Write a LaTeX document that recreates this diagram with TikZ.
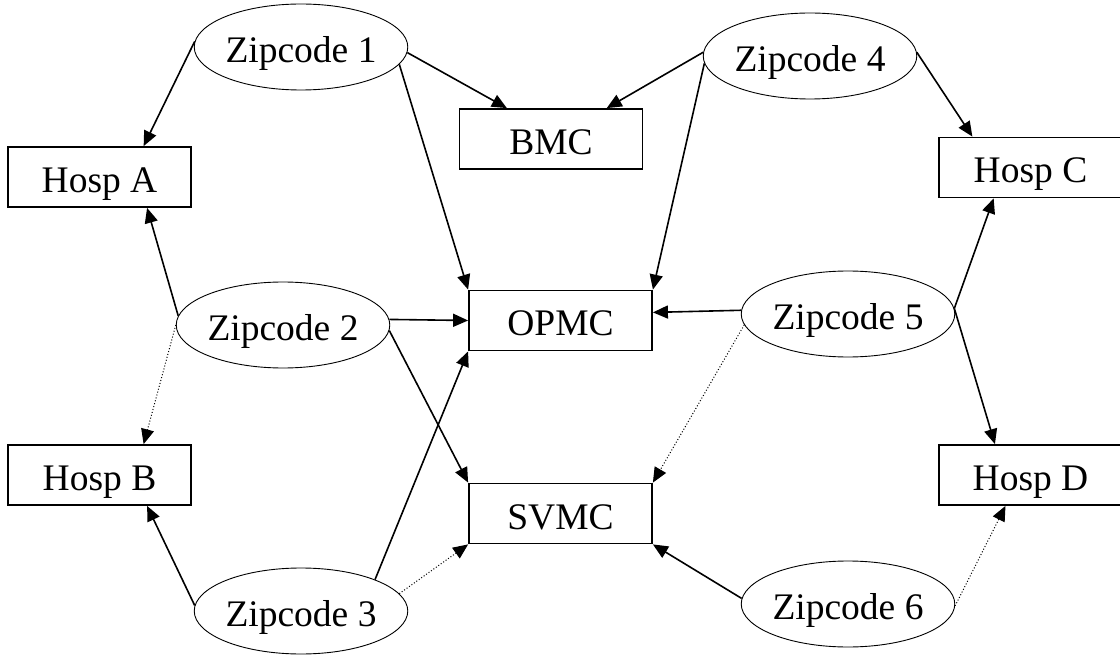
\documentclass[tikz,border=0pt]{standalone}
\usepackage{fontspec}
\setmainfont{Liberation Serif}
\usetikzlibrary{shapes.geometric,arrows.meta}

\tikzset{
  zip/.style={draw, ellipse, line width=0.9pt, minimum width=201pt, minimum height=86pt, inner sep=0pt,
    text height=35pt, text depth=4pt},
  hosp/.style={draw, rectangle, line width=1.8pt, minimum width=183pt, minimum height=60pt, inner sep=0pt,
    text height=35pt, text depth=4pt},
  link/.style={-{Triangle[length=15pt,width=13pt]}, line width=1.6pt},
  maybe/.style={link, line width=1pt, dash pattern=on 1pt off 2pt}
}

\begin{document}
\begin{tikzpicture}[x=1pt, y=-1pt, font=\fontsize{37.5}{40}\selectfont]
    \useasboundingbox (0,0) rectangle (1120,655);

    %zipcodes
    \node[zip] (zip1) at (301,47) {Zipcode 1};
    \node[zip] (zip4) at (810,56) {Zipcode 4};
    \node[zip] (zip2) at (283,325) {Zipcode 2};
    \node[zip] (zip5) at (848,314) {Zipcode 5};
    \node[zip] (zip3) at (301,611) {Zipcode 3};
    \node[zip] (zip6) at (848,604) {Zipcode 6};

    %hospitals
    \node[hosp] (hospA) at (99.5,177) {Hosp A};
    \node[hosp] (hospB) at (99.5,475) {Hosp B};
    \node[hosp] (hospC) at (1030.5,167.5) {Hosp C};
    \node[hosp] (hospD) at (1030.5,475) {Hosp D};
    \node[hosp] (bmc) at (551,139) {BMC};
    \node[hosp] (opmc) at (560.5,320.5) {OPMC};
    \node[hosp] (svmc) at (560.5,513.5) {SVMC};

    %Zipcode 1
    \draw[link] (zip1.177) -- (hospA.35);
    \draw[link] (zip1.-3) -- (bmc.145);
    \draw[link] (zip1.-10) -- (opmc.north west);

    %Zipcode 4
    \draw[link] (zip4.178) -- (bmc.29);
    \draw[link] (zip4.184) -- (opmc.north east);
    \draw[link] (zip4.2) -- (hospC.152);

    %Zipcode 2
    \draw[link] (zip2.175) -- (hospA.-33);
    \draw[maybe] (zip2.180) -- (hospB.35);
    \draw[link] (zip2.3) -- (opmc.west);
    \draw[link] (zip2.-3) -- (svmc.north west);

    %Zipcode 5
    \draw[link] (zip5.178) -- (opmc.5);
    \draw[maybe] (zip5.186) -- (svmc.north east);
    \draw[link] (zip5.3) -- (hospC.220);
    \draw[link] (zip5.3) -- (hospD.139);

    %Zipcode 3
    \draw[link] (zip3.177) -- (hospB.-33);
    \draw[link] (zip3.23) -- (opmc.south west);
    \draw[maybe] (zip3.10) -- (svmc.south west);

    %Zipcode 6
    \draw[link] (zip6.177) -- (svmc.south east);
    \draw[maybe] (zip6.-1) -- (hospD.231);
\end{tikzpicture}
\end{document}
